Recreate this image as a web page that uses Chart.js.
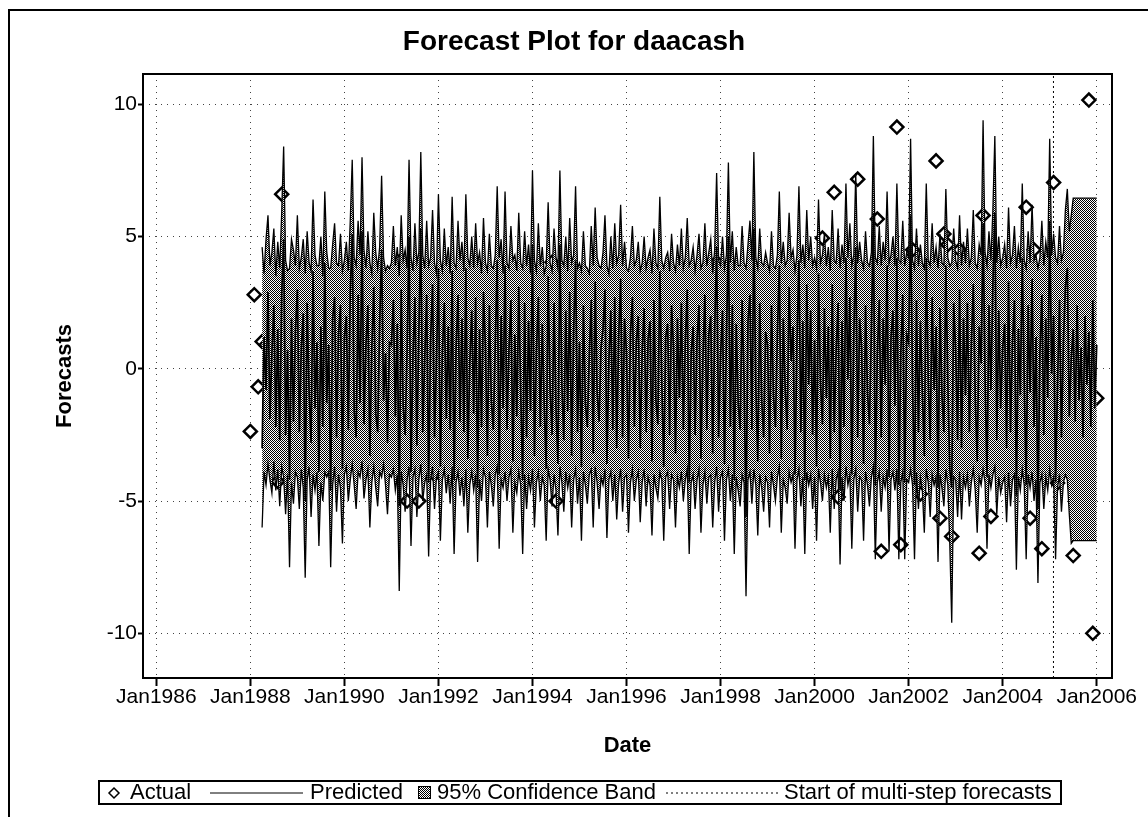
<!DOCTYPE html>
<html>
<head>
<meta charset="utf-8">
<script src="https://cdn.jsdelivr.net/npm/chart.js@4.4.1/dist/chart.umd.min.js"></script>
<style>
  html, body { margin: 0; padding: 0; background: #fff; }
  #wrap { position: relative; width: 1148px; height: 817px; overflow: hidden; }
  canvas { position: absolute; left: 0; top: 0; }
</style>
</head>
<body>
<div id="wrap"><canvas id="c" width="1148" height="817"></canvas></div>
<script>
// Axis ticks
const tickYears = [1986, 1988, 1990, 1992, 1994, 1996, 1998, 2000, 2002, 2004, 2006];
const yTickValues = [-10, -5, 0, 5, 10];

// Calendar: actuals are monthly from Jan 1988, forecasts are half-monthly from Jan 1988
const actualStart = 1988;
const bandStart = 1988;
const forecastStart = 2005.08;

// Actual values, one per month (Jan 1988 .. Jan 2006)
const actual = [
  -2.37, 2.8, -0.68, 1.03, 0.9, -0.73, -2.37, -4.26, 6.6, 1.4, -1.9, 0.6,
  2.2, 3.36, -3.56, -0.4, 1.7, -2.1, -2.53, 0.8, 2.5, -1.2, 1.1, -2.8,
  2.0, -2.0, 0.3, 2.9, -1.6, 1.2, -2.4, 0.5, 2.6, -0.9, -2.9, 1.8,
  0.2, -1.7, 4.05, 0.7, -5.0, 1.5, -1.1, -5.0, 2.3, -0.6, 1.8, -4.0,
  0.4, 2.7, -2.2, 1.0, -1.4, 1.7, 3.0, -2.6, 0.9, -0.8, 2.1, -1.9,
  3.0, -0.3, -2.7, 1.4, -1.0, 2.4, 3.0, -2.3, 0.6, 2.0, -1.5, 1.2,
  -2.9, 0.1, 2.6, -1.3, 1.9, 4.03, -5.0, 0.5, -2.0, 2.2, -0.7, 1.3,
  -2.5, 0.8, 2.8, -1.8, -0.2, 1.6, -2.4, 2.5, 0.3, -1.2, 1.9, -2.8,
  0.7, 2.3, -1.6, 1.0, -2.2, 2.7, -0.5, 1.5, -3.9, 0.4, 2.0, -1.4,
  3.0, -2.6, 0.8, -0.9, 2.4, -2.0, 1.1, -0.3, 2.6, -2.7, 0.5, 4.03,
  -1.7, 1.3, -2.3, 0.9, 3.0, -1.0, 1.8, -2.9, 0.2, 2.2, 3.34, -1.5,
  0.6, -2.4, 1.7, -0.8, 2.5, -2.1, 1.0, -0.4, 2.8, -2.6, 0.3, 1.9,
  -1.3, 2.1, 4.94, -2.2, 0.8, 6.67, -4.85, 1.4, 4.03, -1.9, 0.5, 7.17,
  -2.5, 1.6, -0.7, 2.3, 5.66, -6.9, 1.2, -1.8, 2.6, 9.14, -6.65, 0.4,
  -2.3, 4.5, 1.1, -4.73, 2.0, -0.9, 1.5, 7.86, -5.65, 5.1, 4.69, -6.34,
  0.9, 4.5, -2.0, 1.7, -1.1, -3.09, -6.97, 5.8, 0.6, -5.58, 2.2, -1.6,
  1.3, -2.4, 2.99, 3.72, -3.94, 1.0, 6.11, -5.65, 4.5, -1.2, -6.8, -2.41,
  1.9, 7.04, -4.32, 2.4, -0.8, 1.6, -7.06, 0.7, -1.36, -1.05, 10.16, -10.0,
  -1.11
];

// One-step-ahead predictions, two per month (Jan 1988 .. Jan 2006)
const predicted = [
  null, null, null, null, null, null, -3.0, 1.2, -0.8, 2.9, -1.9, 0.6, 2.4, -2.2, 1.5, -2.7, 2.8, 4.9, -2.5, 0.7, -4.2, 1.9, -2.0, 1.4,
  3.0, -2.4, 0.8, 2.1, -5.0, 2.5, -0.9, -2.8, 3.7, -1.5, 1.0, -3.9, 1.6, -2.2, 4.0, -1.3, 0.9, -4.6, 1.9, 2.7, -2.6, 1.3, 2.4, -3.8,
  1.2, 2.0, -2.3, 2.9, 5.1, -1.6, -2.6, 2.8, -1.3, 5.2, -2.1, 0.9, 2.4, -3.3, 0.8, 3.1, -1.7, -2.4, 1.7, 4.5, -1.2, 0.6, -2.8, 1.0,
  0.9, 2.6, -1.8, 1.7, -5.2, 3.0, -1.4, -2.5, 0.7, 5.0, -3.9, 0.5, 2.7, -2.9, 1.3, 5.3, -2.4, 0.4, 2.8, -4.3, 1.1, 3.2, -2.6, 0.3,
  3.8, -3.7, 0.6, 2.5, -1.9, 1.6, -2.3, 3.7, -4.2, 0.8, 2.8, -2.0, 1.9, -2.4, 3.8, -3.4, 0.2, 2.2, -1.7, 2.7, -4.5, 1.5, -2.2, 2.9,
  0.8, -3.3, 2.4, -1.2, -2.3, 0.9, 4.1, -4.0, 2.0, -1.5, 3.9, -2.3, 0.7, 2.6, -3.5, 1.3, -1.8, 3.1, -0.9, -4.2, 2.5, -2.6, 1.8, -1.6,
  4.7, -3.3, 0.6, 2.7, -2.2, 1.7, -1.4, -3.8, 3.5, -0.8, -2.5, 2.5, -1.5, -3.6, 4.7, -0.6, -2.7, 2.2, -1.6, 2.9, -3.3, 1.4, 4.1, -2.4,
  1.0, -3.7, 2.4, -1.3, -2.2, 0.5, 2.6, -3.2, 3.3, -0.9, -2.0, 0.8, 1.5, 3.0, -3.6, 0.3, 2.2, -2.3, 2.7, -3.0, 1.2, 3.4, -2.6, 1.9,
  0.6, -3.4, 1.3, 2.7, -2.2, 1.0, 2.0, -3.0, 0.7, 2.3, -2.4, 1.1, 1.8, -3.5, 2.6, -1.2, -2.1, 3.7, -0.5, -3.7, 1.2, 1.7, -2.5, 2.4,
  0.8, -3.2, 1.9, -1.1, 2.5, -2.3, 1.0, 3.0, -4.3, 0.6, 1.6, -2.5, 1.1, 2.4, -3.4, 0.4, 2.8, -2.3, 1.3, 2.0, -3.2, 1.5, 4.6, -2.6,
  0.5, 2.2, -3.6, 1.2, 5.0, -2.2, 2.4, -4.2, 1.7, -1.3, -2.3, 2.6, -0.4, -5.6, 1.8, 2.8, -2.3, 5.3, -0.7, -3.5, 2.5, -1.2, -2.6, 1.4,
  0.9, -3.2, 2.4, -1.0, -2.2, 1.3, 3.9, -3.4, 1.9, -0.8, -2.3, 3.1, 0.3, 1.6, -4.0, 1.0, 4.1, -2.4, 1.8, -4.2, 3.2, -0.6, 2.2, -2.5,
  1.1, -3.7, 3.6, -0.5, -2.1, 2.3, -1.1, 1.6, -3.4, 3.2, -2.4, 0.7, 2.5, -4.6, 1.8, -2.2, 4.2, -0.4, 2.7, -4.0, 1.2, 4.6, -2.6, 1.9,
  0.8, -3.6, 2.4, -0.9, -2.1, 1.5, 5.9, -4.4, 0.5, 2.6, -2.6, 1.9, -0.6, 3.9, -4.1, 1.2, 2.2, -1.4, 4.2, -4.4, 0.6, 2.8, -4.3, 1.3,
  1.0, 5.8, -0.7, -4.4, 2.6, -2.4, 1.8, -0.9, -3.3, 4.2, -0.4, -2.7, 2.7, -0.8, 1.6, -4.5, 2.3, -1.0, -2.4, 3.9, -0.5, -3.8, -4.5, 2.5,
  0.7, -2.7, 3.0, -3.0, 1.9, -1.0, 2.5, -2.4, 0.9, 3.2, -1.1, -3.5, 1.6, 0.2, 5.5, -0.3, -4.1, 2.4, -0.8, 3.2, 5.9, -2.7, 2.2, -1.5,
  0.8, 1.7, -3.0, 3.3, -2.4, 1.0, 2.6, -4.8, 1.5, -1.0, 4.2, -0.5, -4.4, 2.4, -0.9, 3.4, -2.2, 1.2, -5.3, 0.6, 2.8, -2.5, 1.9, -1.1,
  5.6, -0.2, 2.0, -4.3, -0.6, 2.6, -2.6, 1.0, 3.1, 3.8, -1.8, 0.4, 1.5, -2.0, 2.4, -1.2, 0.8, -2.6, 2.0, -0.6, 1.4, -2.2, 2.6, -1.5,
  0.9
];

// Upper 95% confidence limits
const upper = [
  null, null, null, null, null, null, 4.6, 3.6, 4.9, 5.8, 3.9, 4.4, 5.3, 3.5, 4.8, 3.8, 5.9, 8.4, 4.1, 3.7, 3.8, 4.9, 4.5, 3.9,
  5.8, 3.8, 4.2, 4.9, 3.6, 5.2, 4.0, 3.7, 6.4, 4.3, 3.9, 3.9, 5.0, 3.5, 6.7, 4.4, 3.8, 3.8, 4.7, 5.5, 4.0, 3.9, 5.1, 3.7,
  4.1, 4.8, 3.7, 5.6, 7.9, 4.2, 3.9, 5.6, 4.3, 8.0, 4.5, 3.8, 5.2, 4.0, 3.6, 5.9, 4.4, 3.8, 4.6, 7.3, 4.2, 3.7, 3.9, 3.8,
  4.0, 5.4, 3.9, 4.6, 3.5, 5.8, 4.1, 4.5, 3.8, 7.9, 4.2, 3.7, 5.5, 4.0, 4.4, 8.2, 4.3, 3.8, 5.6, 3.9, 4.2, 6.0, 4.0, 3.6,
  6.6, 4.1, 3.7, 5.3, 3.9, 4.6, 3.6, 6.5, 4.0, 3.8, 5.6, 4.1, 4.8, 3.7, 6.6, 4.2, 3.9, 5.0, 3.8, 5.5, 4.0, 4.4, 3.6, 5.7,
  4.0, 3.7, 5.1, 3.9, 3.8, 4.3, 6.9, 4.2, 4.9, 3.6, 6.7, 4.0, 3.8, 5.4, 4.1, 4.3, 3.7, 5.9, 4.0, 3.8, 5.2, 3.9, 4.7, 3.6,
  7.5, 4.1, 3.7, 5.5, 3.9, 4.6, 3.6, 3.9, 6.3, 4.0, 3.7, 5.3, 4.2, 3.8, 7.5, 4.1, 3.9, 5.0, 3.7, 5.7, 4.0, 4.3, 6.9, 3.8,
  4.0, 3.7, 5.2, 3.9, 3.8, 3.6, 5.4, 3.9, 6.1, 4.2, 3.9, 3.8, 4.4, 5.8, 3.9, 3.6, 5.0, 3.8, 5.5, 4.0, 4.3, 6.2, 3.9, 4.8,
  3.8, 3.7, 4.2, 5.4, 3.9, 4.1, 4.8, 3.7, 4.0, 5.0, 3.8, 4.2, 4.5, 3.6, 5.3, 4.0, 3.8, 6.5, 4.1, 3.8, 4.2, 4.4, 3.7, 5.1,
  4.0, 3.7, 4.7, 3.9, 5.3, 3.8, 4.2, 5.7, 3.9, 4.1, 4.6, 3.7, 4.3, 5.1, 3.8, 4.0, 5.5, 3.9, 4.4, 4.9, 3.6, 4.5, 7.4, 4.1,
  3.9, 5.0, 3.8, 4.3, 7.8, 4.0, 5.2, 3.7, 4.6, 3.9, 3.9, 5.4, 4.0, 3.8, 4.7, 5.6, 4.1, 8.2, 4.2, 3.8, 5.3, 4.0, 3.9, 4.4,
  4.0, 3.7, 5.2, 3.9, 3.8, 4.3, 6.7, 4.0, 4.8, 3.9, 4.1, 5.9, 4.2, 4.5, 3.7, 4.3, 6.9, 4.0, 4.7, 3.8, 6.0, 4.1, 5.0, 3.9,
  4.2, 3.8, 6.4, 4.0, 4.3, 5.1, 3.9, 4.6, 3.7, 6.0, 4.1, 4.0, 5.3, 3.8, 4.7, 4.0, 7.0, 4.2, 5.5, 3.9, 4.3, 7.4, 4.0, 4.8,
  4.1, 3.8, 5.2, 4.0, 3.9, 4.4, 8.8, 4.2, 4.0, 5.4, 3.9, 4.8, 4.1, 6.7, 4.0, 4.3, 5.0, 3.9, 7.0, 4.1, 4.0, 5.6, 3.9, 4.4,
  4.2, 8.7, 4.1, 3.8, 5.3, 3.9, 4.7, 4.0, 3.8, 7.0, 4.1, 3.9, 5.5, 4.0, 4.6, 3.8, 5.1, 4.0, 3.9, 6.8, 4.2, 3.9, 4.0, 5.3,
  4.1, 3.8, 5.8, 3.9, 4.8, 4.0, 5.3, 3.9, 4.2, 6.0, 4.0, 3.8, 4.7, 4.3, 9.4, 4.4, 3.9, 5.2, 4.1, 6.0, 8.8, 4.0, 5.0, 3.9,
  4.2, 4.7, 3.8, 6.1, 4.0, 4.3, 5.4, 3.8, 4.6, 4.0, 7.0, 4.1, 3.8, 5.2, 4.0, 6.2, 4.1, 4.3, 3.8, 4.2, 5.6, 3.9, 4.8, 4.2,
  8.7, 4.3, 5.1, 4.2, 4.0, 5.4, 4.1, 4.4, 6.0, 6.8, 5.2, 5.8, 6.45, 6.45, 6.45, 6.45, 6.45, 6.45, 6.45, 6.45, 6.45, 6.45, 6.45, 6.45,
  6.45
];

// Lower 95% confidence limits
const lower = [
  null, null, null, null, null, null, -6.0, -3.9, -4.4, -3.6, -4.2, -4.7, -3.5, -4.6, -3.8, -5.2, -3.7, -4.1, -5.5, -4.0, -7.5, -4.3, -5.1, -3.9,
  -4.1, -5.3, -3.8, -4.5, -7.9, -4.2, -3.7, -5.6, -4.0, -4.6, -3.9, -6.7, -4.3, -5.0, -3.9, -4.1, -3.9, -7.5, -4.4, -3.7, -5.4, -4.0, -4.5, -6.6,
  -4.0, -3.7, -5.0, -4.2, -3.6, -4.4, -5.3, -3.9, -4.1, -3.5, -4.9, -4.2, -3.8, -6.0, -4.3, -3.7, -4.5, -5.2, -3.9, -4.1, -3.6, -4.4, -5.5, -4.0,
  -4.1, -3.8, -4.6, -4.0, -8.4, -3.9, -4.4, -5.4, -4.2, -3.7, -6.7, -4.1, -3.8, -5.6, -4.2, -3.6, -5.0, -4.3, -4.0, -7.1, -4.2, -3.7, -5.3, -4.1,
  -3.9, -6.5, -4.2, -3.8, -4.7, -4.0, -5.1, -3.7, -7.0, -4.3, -3.9, -4.8, -4.1, -5.2, -3.8, -6.2, -4.4, -3.9, -4.6, -4.0, -7.3, -4.2, -5.0, -3.8,
  -4.1, -6.0, -3.9, -4.4, -5.2, -4.0, -3.7, -6.8, -4.2, -4.5, -3.9, -5.0, -4.1, -3.8, -6.2, -4.3, -4.7, -3.9, -4.4, -7.0, -4.0, -5.3, -4.1, -4.6,
  -3.8, -6.0, -4.3, -3.9, -5.0, -4.1, -4.4, -6.5, -3.8, -4.2, -5.2, -4.0, -4.6, -6.3, -3.7, -4.3, -5.4, -3.9, -4.5, -4.0, -6.0, -4.2, -3.8, -5.1,
  -4.1, -6.5, -3.9, -4.4, -5.1, -4.0, -3.8, -6.0, -3.7, -4.3, -5.3, -4.1, -4.4, -3.8, -6.4, -4.2, -3.9, -5.0, -4.0, -5.7, -4.3, -3.8, -5.4, -4.1,
  -4.0, -6.2, -4.3, -3.8, -5.0, -4.2, -3.9, -5.8, -4.3, -3.8, -5.2, -4.1, -4.4, -6.3, -4.0, -4.5, -4.9, -3.9, -4.2, -6.5, -4.1, -3.9, -5.3, -4.0,
  -4.2, -6.0, -4.1, -4.5, -3.9, -5.0, -4.2, -3.8, -7.0, -4.3, -4.0, -5.3, -4.2, -3.8, -6.2, -4.4, -3.9, -5.1, -4.1, -4.0, -6.0, -4.3, -3.7, -5.4,
  -4.1, -3.9, -6.5, -4.2, -3.8, -5.0, -4.0, -7.0, -4.1, -4.6, -5.2, -4.0, -4.3, -8.6, -4.2, -3.9, -5.1, -3.8, -4.4, -6.3, -4.0, -4.5, -5.4, -4.1,
  -4.3, -6.0, -3.9, -4.4, -5.0, -4.1, -3.7, -6.2, -4.2, -4.5, -5.1, -3.9, -4.3, -4.0, -6.8, -4.2, -3.8, -5.2, -4.1, -7.0, -3.9, -4.4, -4.0, -5.3,
  -4.1, -6.5, -3.8, -4.3, -5.0, -4.0, -4.5, -4.1, -6.2, -3.8, -5.3, -4.2, -3.9, -7.4, -4.1, -5.0, -3.7, -4.4, -4.0, -6.8, -4.2, -3.8, -5.4, -4.1,
  -4.2, -6.5, -3.9, -4.4, -5.2, -4.1, -3.7, -7.2, -4.3, -3.9, -5.4, -4.1, -4.5, -3.8, -6.9, -4.2, -3.9, -4.6, -3.8, -7.2, -4.3, -3.9, -7.2, -4.2,
  -4.3, -3.8, -4.4, -7.2, -3.9, -5.3, -4.1, -4.6, -6.2, -3.8, -4.3, -5.6, -4.0, -4.4, -4.1, -7.3, -4.0, -4.5, -5.2, -3.8, -4.4, -6.6, -9.6, -4.1,
  -4.2, -5.6, -3.9, -5.7, -4.1, -4.5, -4.0, -5.2, -4.3, -3.8, -4.6, -6.2, -4.1, -4.4, -3.8, -4.3, -6.8, -4.0, -4.5, -4.0, -3.7, -5.5, -4.1, -4.7,
  -4.3, -4.1, -5.8, -3.9, -5.2, -4.2, -4.0, -7.6, -4.1, -4.6, -3.8, -4.4, -7.2, -4.0, -4.5, -3.9, -5.0, -4.2, -8.1, -4.3, -4.0, -5.3, -4.1, -4.6,
  -3.8, -4.4, -4.1, -7.2, -4.5, -4.0, -5.4, -4.3, -4.0, -4.2, -5.5, -6.6, -6.5, -6.5, -6.5, -6.5, -6.5, -6.5, -6.5, -6.5, -6.5, -6.5, -6.5, -6.5,
  -6.5
];

const FONT = '"Liberation Sans", Arial, Helvetica, sans-serif';
const Y_MIN = -11.69, Y_MAX = 11.145;

const monthPoints = actual.map((v, k) => ({ x: actualStart + k / 12, y: v }));
const halfPoints = arr => arr.map((v, j) => ({ x: bandStart + j / 24, y: v }));

// Dithered grey used for the confidence band
function makeStipple() {
  const pc = document.createElement('canvas');
  pc.width = 2; pc.height = 2;
  const g = pc.getContext('2d');
  g.fillStyle = '#fff'; g.fillRect(0, 0, 2, 2);
  g.fillStyle = '#000'; g.fillRect(0, 0, 1, 1); g.fillRect(1, 1, 1, 1);
  return g.createPattern(pc, 'repeat');
}
const stipple = makeStipple();

// Frame around the plotting area
const plotFrame = {
  id: 'plotFrame',
  afterDatasetsDraw(chart) {
    const { ctx, chartArea: a } = chart;
    ctx.save();
    ctx.strokeStyle = '#000';
    ctx.lineWidth = 2;
    ctx.strokeRect(a.left, a.top, a.right - a.left, a.bottom - a.top);
    ctx.restore();
  }
};

// Page border and the boxed legend under the axis title
const boxedLegend = {
  id: 'boxedLegend',
  afterDraw(chart) {
    const c = chart.ctx;
    c.save();
    c.fillStyle = '#000';
    c.fillRect(8, 9, 2, 808);
    c.fillRect(8, 9, 1140, 2);

    const bx = 99, by = 781, bw = 962, bh = 23, cy = by + bh / 2 + 0.5;
    c.lineWidth = 2;
    c.strokeStyle = '#000';
    c.strokeRect(bx, by, bw, bh);

    c.font = '22px ' + FONT;
    c.textBaseline = 'middle';
    c.textAlign = 'left';

    // Actual
    c.lineWidth = 1.5;
    c.beginPath();
    c.moveTo(114, cy - 5); c.lineTo(119, cy); c.lineTo(114, cy + 5); c.lineTo(109, cy); c.closePath();
    c.fillStyle = '#fff'; c.fill(); c.stroke();
    c.fillStyle = '#000';
    c.fillText('Actual', 130, cy);

    // Predicted
    c.lineWidth = 1;
    c.beginPath(); c.moveTo(210, cy); c.lineTo(303, cy); c.stroke();
    c.fillText('Predicted', 310, cy);

    // Band swatch
    c.fillStyle = stipple;
    c.fillRect(418, cy - 7, 13, 13);
    c.strokeRect(418.5, cy - 6.5, 12, 12);
    c.fillStyle = '#000';
    c.fillText('95% Confidence Band', 437, cy);

    // Start of multi-step forecasts
    c.setLineDash([2, 3]);
    c.beginPath(); c.moveTo(666, cy); c.lineTo(778, cy); c.stroke();
    c.setLineDash([]);
    c.fillText('Start of multi-step forecasts', 784, cy);
    c.restore();
  }
};

new Chart(document.getElementById('c'), {
  type: 'line',
  data: {
    datasets: [
      {
        label: 'Predicted',
        data: halfPoints(predicted),
        borderColor: '#000',
        borderWidth: 1.7,
        pointRadius: 0,
        tension: 0
      },
      {
        label: 'Lower 95%',
        data: halfPoints(lower),
        borderColor: '#000',
        borderWidth: 1.3,
        pointRadius: 0,
        tension: 0,
        fill: false
      },
      {
        label: 'Upper 95%',
        data: halfPoints(upper),
        borderColor: '#000',
        borderWidth: 1.3,
        pointRadius: 0,
        tension: 0,
        fill: '-1',
        backgroundColor: stipple
      },
      {
        label: 'Actual',
        data: monthPoints,
        showLine: false,
        pointStyle: 'rectRot',
        pointRadius: 6.5,
        pointBorderWidth: 2.5,
        pointBorderColor: '#000',
        pointBackgroundColor: '#fff'
      },
      {
        label: 'Start of multi-step forecasts',
        data: [{ x: forecastStart, y: Y_MIN }, { x: forecastStart, y: Y_MAX }],
        borderColor: '#000',
        borderWidth: 1,
        borderDash: [2, 3],
        pointRadius: 0
      }
    ]
  },
  options: {
    responsive: false,
    animation: false,
    devicePixelRatio: 1,
    events: [],
    layout: { padding: 0 },
    plugins: {
      legend: { display: false },
      tooltip: { enabled: false },
      title: {
        display: true,
        text: 'Forecast Plot for daacash',
        color: '#000',
        font: { family: FONT, size: 28, weight: 'bold' },
        padding: { top: 25, bottom: 15.4 }
      }
    },
    scales: {
      x: {
        type: 'linear',
        min: 1985.717,
        max: 2006.325,
        afterFit(s) { s.height = 139; },
        afterBuildTicks(s) { s.ticks = tickYears.map(v => ({ value: v })); },
        ticks: {
          color: '#000',
          font: { family: FONT, size: 21 },
          padding: -1,
          maxRotation: 0,
          autoSkip: false,
          callback: v => 'Jan' + v
        },
        grid: {
          color: '#444',
          lineWidth: 1,
          tickLength: 8,
          tickColor: '#000',
          tickWidth: 2
        },
        border: { display: false, dash: [1, 5] },
        title: {
          display: true,
          text: 'Date',
          color: '#000',
          font: { family: FONT, size: 22, weight: 'bold' },
          padding: { top: 4, bottom: 58 }
        }
      },
      y: {
        type: 'linear',
        min: Y_MIN,
        max: Y_MAX,
        afterFit(s) { s.width = 143; },
        afterBuildTicks(s) { s.ticks = yTickValues.map(v => ({ value: v })); },
        ticks: {
          color: '#000',
          font: { family: FONT, size: 21 },
          padding: 1
        },
        grid: {
          color: '#444',
          lineWidth: 1,
          tickLength: 5,
          tickColor: '#000',
          tickWidth: 2
        },
        border: { display: false, dash: [1, 5] },
        title: {
          display: true,
          text: 'Forecasts',
          color: '#000',
          font: { family: FONT, size: 22, weight: 'bold' },
          padding: { top: 52, bottom: 4 }
        }
      },
      yRight: {
        type: 'linear',
        position: 'right',
        min: 0,
        max: 1,
        afterFit(s) { s.width = 36; },
        ticks: { display: false },
        grid: { display: false },
        border: { display: false }
      }
    }
  },
  plugins: [plotFrame, boxedLegend]
});
</script>
</body>
</html>
